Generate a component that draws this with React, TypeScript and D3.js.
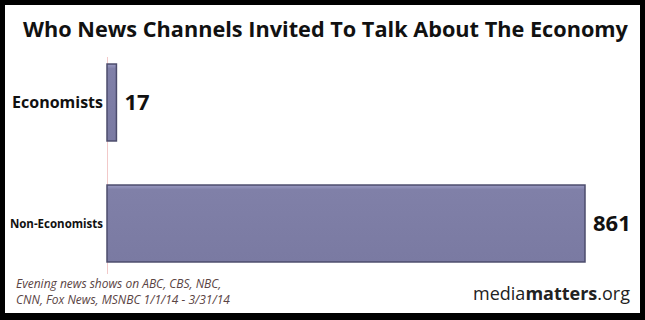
import React from "react";
import * as d3 from "d3";

const categories = ["Economists", "Non-Economists"];
const values = [17, 861];
const valueLabels = ["17", "861"];
const title = "Who News Channels Invited To Talk About The Economy";
const noteLines = [
  "Evening news shows on ABC, CBS, NBC,",
  "CNN, Fox News, MSNBC 1/1/14 - 3/31/14",
];

const W = 645;
const H = 320;

export default function App() {
  const x = d3.scaleLinear().domain([0, 861]).range([107, 585]);
  const y = d3
    .scaleBand<string>()
    .domain(categories)
    .range([42, 284])
    .paddingInner(0.364)
    .paddingOuter(0.182);
  const font = "'Open Sans', 'Noto Sans', sans-serif";
  return (
    <svg
      width={W}
      height={H}
      style={{ position: "absolute", left: 0, top: 0, display: "block" }}
    >
      <defs>
        <linearGradient id="barg" x1="0" y1="0" x2="0" y2="1">
          <stop offset="0" stopColor="#9c9cc4" />
          <stop offset="0.06" stopColor="#8080a8" />
          <stop offset="1" stopColor="#7a7aa2" />
        </linearGradient>
      </defs>
      <rect x={0} y={0} width={W} height={H} fill="#000" />
      <rect x={5} y={5} width={635} height={308} fill="#fff" />
      <text
        x={325.5}
        y={37}
        textAnchor="middle"
        fontFamily={font}
        fontWeight={700}
        fontSize={21.7}
        fill="#111"
      >
        {title}
      </text>
      <line x1={107.5} x2={107.5} y1={57} y2={274} stroke="#f2c9c9" strokeWidth={1} />
      {categories.map((c, i) => {
        const by = y(c)!;
        const bw = x(values[i]) - x(0);
        const cy = by + y.bandwidth() / 2;
        return (
          <g key={c}>
            <rect
              x={x(0)}
              y={by}
              width={bw}
              height={y.bandwidth()}
              fill="url(#barg)"
              stroke="#4c4c6c"
              strokeWidth={1.5}
            />
            <text
              x={103}
              y={cy}
              dy="0.35em"
              textAnchor="end"
              fontFamily={font}
              fontWeight={700}
              fontSize={i === 0 ? 16 : 11.5}
              fill="#111"
            >
              {c}
            </text>
            <text
              x={x(values[i]) + 8}
              y={cy}
              dy="0.36em"
              fontFamily={font}
              fontWeight={700}
              fontSize={22}
              fill="#111"
            >
              {valueLabels[i]}
            </text>
          </g>
        );
      })}
      {noteLines.map((l, i) => (
        <text
          key={i}
          x={16}
          y={288 + i * 16}
          fontFamily={font}
          fontStyle="italic"
          fontSize={12}
          fill="#5a4444"
        >
          {l}
        </text>
      ))}
      <text
        x={630}
        y={300}
        textAnchor="end"
        fontFamily={font}
        fontSize={18}
        fill="#222"
      >
        <tspan>media</tspan>
        <tspan fontWeight={700}>matters</tspan>
        <tspan>.org</tspan>
      </text>
    </svg>
  );
}
